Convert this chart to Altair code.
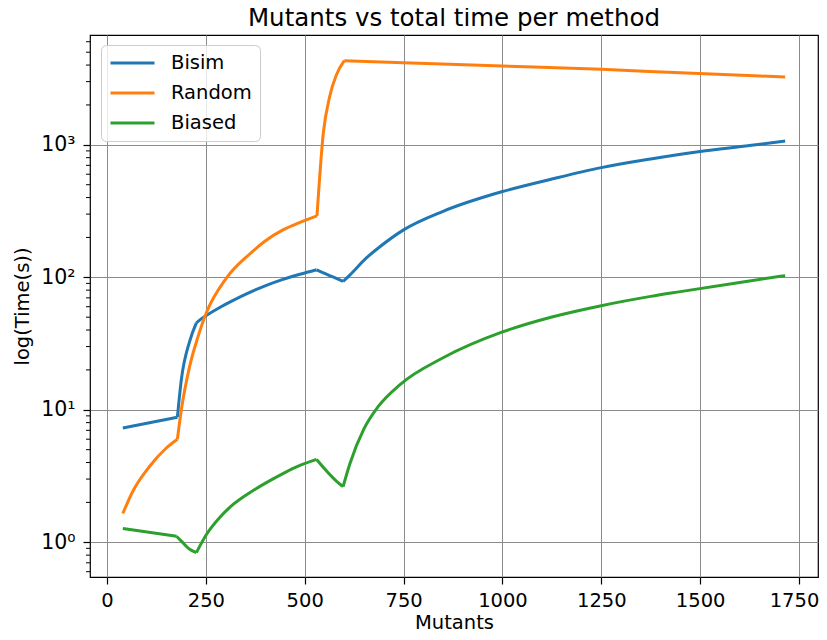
import altair as alt
import pandas as pd

# ---- data ----
series_names = ["Bisim", "Random", "Biased"]
series_colors = ["#1f77b4", "#ff7f0e", "#2ca02c"]

bisim_x = [40, 178, 188, 209, 226, 240, 251, 285, 319, 361, 403, 445, 488, 530,
           547, 563, 580, 597, 614, 656, 690, 750, 850, 1000, 1125, 1250, 1375,
           1500, 1625, 1715]
bisim_t = [7.3, 8.8, 16.9, 32.9, 45.3, 49, 51.5, 59.2, 67, 77, 87, 96.6, 105.4, 114,
           108, 103, 98, 93, 104, 140, 170, 228, 315, 444, 552, 673, 782,
           891, 988, 1070]
bisim_kinks = [178, 226, 530, 597]

random_x = [40, 66, 108, 150, 178, 188, 209, 230, 239, 251, 302, 361, 400, 445,
            488, 531, 547, 563, 580, 600, 750, 1000, 1250, 1450, 1715]
random_t = [1.65, 2.45, 3.75, 5.15, 6.0, 10, 21.3, 35.5, 43, 53.8, 98.8, 150, 188,
            228, 260, 291, 1223, 2308, 3365, 4313, 4160, 3933, 3715, 3500, 3250]
random_kinks = [178, 531, 600]

biased_x = [40, 176, 188, 209, 226, 251, 285, 319, 361, 403, 445, 488, 530, 580,
            597, 614, 650, 686, 741, 850, 1000, 1125, 1250, 1375, 1450, 1600, 1715]
biased_t = [1.27, 1.11, 1.02, 0.885, 0.836, 1.14, 1.54, 1.93, 2.37, 2.82, 3.3, 3.8,
            4.22, 2.9, 2.63, 3.9, 7.2, 10.6, 15.5, 24.7, 38.7, 50.2, 61.1, 71.8,
            78, 91.5, 103]
biased_kinks = [176, 226, 530, 597]

x_ticks = [0, 250, 500, 750, 1000, 1250, 1500, 1750]
y_major = [1, 10, 100, 1000]
y_major_labels = ["10⁰", "10¹", "10²", "10³"]
y_minor = [0.6, 0.7, 0.8, 0.9, 2, 3, 4, 5, 6, 7, 8, 9, 20, 30, 40, 50, 60, 70, 80, 90,
           200, 300, 400, 500, 600, 700, 800, 900, 2000, 3000, 4000, 5000, 6000]

# long table; each series is split into smooth pieces at its kinks
rows = []
for name, xs, ts, kinks in zip(series_names, [bisim_x, random_x, biased_x],
                               [bisim_t, random_t, biased_t],
                               [bisim_kinks, random_kinks, biased_kinks]):
    seg = 0
    for x, t in zip(xs, ts):
        rows.append({"method": name, "seg": f"{name}-{seg}", "mutants": x, "time": t})
        if x in kinks:
            seg += 1
            rows.append({"method": name, "seg": f"{name}-{seg}", "mutants": x, "time": t})
df = pd.DataFrame(rows)
minor_df = pd.DataFrame({"v": y_minor})

FONT = "DejaVu Sans"
x_scale = alt.Scale(domain=[-43, 1798], nice=False, zero=False)
y_scale = alt.Scale(type="log", domain=[0.547, 6745], nice=False)

label_expr = " : ".join(
    f"datum.value == {v} ? '{l}'" for v, l in zip(y_major, y_major_labels)
) + " : ''"

y_axis = alt.Axis(values=y_major, labelExpr=label_expr, title="log(Time(s))",
                  labelPadding=8, labelFontSize=20.5, titleX=-68,
                  titleBaseline="middle")

x_axis = alt.Axis(values=x_ticks, format="d", title="Mutants", labelPadding=7,
                  labelOffset={"condition": {"test": "datum.value == 1750", "value": -5},
                               "value": 0},
                  titleY=45, titleBaseline="middle")

lines = alt.Chart(df).mark_line(strokeWidth=3, interpolate="monotone").encode(
    x=alt.X("mutants:Q", scale=x_scale, axis=x_axis),
    y=alt.Y("time:Q", scale=y_scale, axis=y_axis),
    detail="seg:N",
    color=alt.Color("method:N",
                    scale=alt.Scale(domain=series_names, range=series_colors),
                    legend=alt.Legend(title=None, orient="none", legendX=11, legendY=10,
                                      symbolType="stroke", symbolSize=1936,
                                      symbolStrokeWidth=3, labelOffset=15,
                                      labelFont=FONT, labelFontSize=19.5,
                                      labelColor="black", padding=8, rowPadding=10,
                                      clipHeight=20,
                                      fillColor="rgba(255,255,255,0.8)",
                                      strokeColor="#cccccc", cornerRadius=5)),
)

minor = alt.Chart(minor_df).mark_rule(color="black", strokeWidth=1).encode(
    y=alt.Y("v:Q", scale=y_scale, axis=y_axis),
    x=alt.value(0),
    x2=alt.value(-4),
)

chart = alt.layer(lines, minor).properties(
    width=728,
    height=542,
    autosize=alt.AutoSizeParams(type="none"),
    padding={"left": 82, "top": 27, "right": 1, "bottom": 53},
    title=alt.TitleParams("Mutants vs total time per method", font=FONT, fontSize=24.5,
                          fontWeight="normal", color="black", anchor="middle",
                          offset=3.5),
).configure_view(
    stroke="black", strokeWidth=1.2
).configure_axis(
    domain=False,
    grid=True, gridColor="#8c8c8c", gridWidth=1,
    tickColor="black", tickSize=7, tickWidth=1.2,
    labelFont=FONT, labelFontSize=19.5, labelColor="black",
    titleFont=FONT, titleFontSize=19.5, titleFontWeight="normal", titleColor="black",
)

chart.save("out.html", embed_options={"renderer": "svg", "actions": False})
